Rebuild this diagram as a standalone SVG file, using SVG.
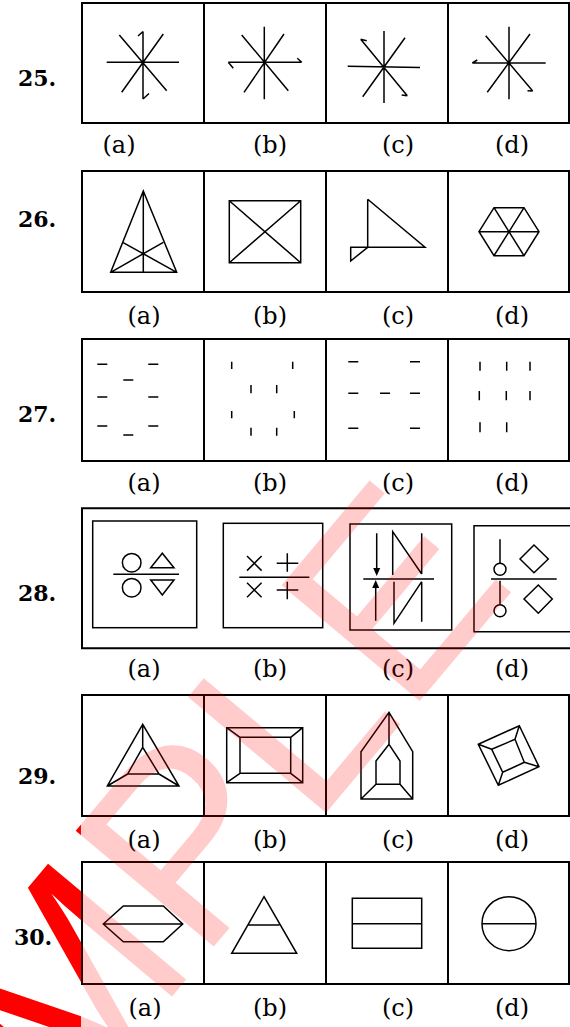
<svg xmlns="http://www.w3.org/2000/svg" width="570" height="1027" viewBox="0 0 570 1027">
<style>
.wm{font-family:"Liberation Sans",Arial,sans-serif;font-size:262px;fill:#ff0000}
.num{font-family:"DejaVu Serif",serif;font-weight:bold;font-size:22px;fill:#000}
.lbl{font-family:"DejaVu Serif",serif;font-size:24px;fill:#000;text-anchor:middle}
.box{fill:none;stroke:#000;stroke-width:2}
.ln{fill:none;stroke:#000;stroke-width:1.5}
.dash{fill:none;stroke:#000;stroke-width:1.5}
</style>
<defs>
<text id="wmtext" class="wm" transform="translate(-165,1398) rotate(-50)">SAMPLE</text>
<clipPath id="clipL"><rect x="0" y="0" width="81" height="1027"/></clipPath>
<clipPath id="clipR"><rect x="81" y="0" width="489" height="1027"/></clipPath>
</defs>
<rect x="0" y="0" width="570" height="1027" fill="#fff"/>
<g id="watermark-left" clip-path="url(#clipL)"><use href="#wmtext"/></g>
<g id="numbers">
<text class="num" x="18" y="86">25.</text>
<text class="num" x="18" y="227">26.</text>
<text class="num" x="18" y="422">27.</text>
<text class="num" x="18" y="601">28.</text>
<text class="num" x="18" y="784">29.</text>
<text class="num" x="14" y="945">30.</text>
</g>
<g id="figures">
<g id="connectors"></g>
<!-- Row 25 -->
<g id="q25">
<path class="box" d="M82 3H569V123H82Z M204 3V123 M326 3V123 M448 3V123"/>
<g id="q25a"><path class="ln" d="M106.7 62.3H179 M143 31.5V62.3 M143 62.3 V99 M119.3 35L166.7 90.7 M163.3 34L121.7 92.3 M143 31.5L138 36 M143 99L149 93.5"/></g>
<g id="q25b"><path class="ln" d="M228.3 62.3H301.7 M264.3 26.7V99.3 M241.7 35L288.3 90.7 M284 34L244 92.3 M228.3 62.3L233.3 68.3 M301.7 62.3L297.3 58.3"/></g>
<g id="q25c"><path class="ln" d="M347.7 66.2L420 67.5 M384 31V103 M360.7 39.3L407.3 95.7 M405 37.7L362.7 96.7 M360.7 39.3L366.7 40.7 M407.3 95.7L401.7 95"/></g>
<g id="q25d"><path class="ln" d="M472.3 63H545.7 M509 26.7V99.3 M485.7 35.7L532.7 91 M530 34L487.3 92.3 M472.3 63L477.3 60 M532.7 91L527.5 90.7"/></g>
<text class="lbl" x="119" y="153">(a)</text><text class="lbl" x="270" y="153">(b)</text><text class="lbl" x="398" y="153">(c)</text><text class="lbl" x="512" y="153">(d)</text>
</g>
<!-- Row 26 -->
<g id="q26">
<path class="box" d="M82 171H569V292H82Z M204 171V292 M326 171V292 M448 171V292"/>
<g id="q26a"><path class="ln" d="M143.3 191L110.7 272.3H176.7Z M143.3 191V272.3 M110.7 272.3L163.3 242.3 M176.7 272.3L122.7 242.3"/></g>
<g id="q26b"><path class="ln" d="M229.3 200.7H300.7V262.7H229.3Z M229.3 200.7L300.7 262.7 M300.7 200.7L229.3 262.7"/></g>
<g id="q26c"><path class="ln" d="M367.7 199.3L425 247.3H350.7V261L367.7 247.3V199.3"/></g>
<g id="q26d"><path class="ln" d="M479 231.7L494 207.7H524L539 231.7L524 255.7H494Z M479 231.7H539 M494 207.7L524 255.7 M524 207.7L494 255.7"/></g>
<text class="lbl" x="144" y="324">(a)</text><text class="lbl" x="270" y="324">(b)</text><text class="lbl" x="398" y="324">(c)</text><text class="lbl" x="512" y="324">(d)</text>
</g>
<!-- Row 27 -->
<g id="q27">
<path class="box" d="M82 339H569V461H82Z M204 339V461 M326 339V461 M448 339V461"/>
<g id="q27a"><path class="dash" d="M97.3 364.3h10 M148.3 364.3h10 M123.3 380h10 M97.3 397h10 M148.3 397h10 M97.3 426h10 M148.3 426h10 M123.3 435h10"/></g>
<g id="q27b"><path class="dash" d="M231.7 361.7v7.3 M292.7 361.7v7.3 M251 385v8.3 M276.7 385v8.3 M231.7 411v7.3 M294.3 411v7.3 M251 427.7v8 M276.7 427.7v8"/></g>
<g id="q27c"><path class="dash" d="M348.3 361.7h10 M410 361.7h10 M348.3 393.3h10 M380 393.3h10 M410 393.3h10 M348.3 428.3h10 M410 428.3h10"/></g>
<g id="q27d"><path class="dash" d="M480 361.7v9 M506.7 361.7v9 M530 361.7v9 M479.3 391v9.3 M506.3 391v9.3 M530 391v9.3 M480 422.3v10 M506.7 422.3v10"/></g>
<text class="lbl" x="144" y="491">(a)</text><text class="lbl" x="270" y="491">(b)</text><text class="lbl" x="398" y="491">(c)</text><text class="lbl" x="512" y="491">(d)</text>
</g>
<!-- Row 28 -->
<g id="q28">
<path class="box" d="M575 508.3H82V648.3H575"/>
<g id="q28a"><rect class="ln" x="92.7" y="521" width="104" height="106.7"/>
<circle class="ln" cx="131.7" cy="562.7" r="9.3"/><circle class="ln" cx="131.7" cy="587.7" r="9.3"/>
<path class="ln" d="M113.3 574.3H179 M150.7 567.7H174L162.3 553.3Z M150.7 580H174L162.3 595Z"/></g>
<g id="q28b"><rect class="ln" x="223.3" y="523.3" width="99.4" height="104.4"/>
<path class="ln" d="M239.3 577.3H309.3 M247 556L261.6 570.6 M261.6 556L247 570.6 M247 582.7L261.6 597.3 M261.6 582.7L247 597.3 M276.7 563.3H298.3 M287.3 553.3V571.7 M276.7 590H298.3 M287.3 581.7V599.3"/></g>
<g id="q28c"><rect class="ln" x="350" y="524" width="101.7" height="106"/>
<path class="ln" d="M363.3 579H434 M376.7 533.3V570 M375.7 620.7V586 M392.7 575V531.7L421.7 574 M421.7 533.3V574 M394 581.7V623.3L421.7 581.7 M421.7 581.7V621.7"/>
<path d="M373.2 568L376.7 576L380.2 568Z M372.2 588L375.7 580L379.2 588Z" fill="#000"/></g>
<g id="q28d"><path class="ln" d="M575 525.7H474V631.7H575"/>
<path class="ln" d="M491 579H556.7 M500 539.3V563.3 M500 580.7V604.7 M520 559L534 545L548.3 559L534 572.7Z M524 599L538.3 585L552.3 599L538.3 613.3Z"/>
<circle class="ln" cx="500" cy="569.3" r="6"/><circle class="ln" cx="500" cy="610.7" r="6"/></g>
<text class="lbl" x="144" y="677">(a)</text><text class="lbl" x="270" y="677">(b)</text><text class="lbl" x="398" y="677">(c)</text><text class="lbl" x="512" y="677">(d)</text>
</g>
<!-- Row 29 -->
<g id="q29">
<path class="box" d="M82 695H569V816H82Z M204 695V816 M326 695V816 M448 695V816"/>
<g id="q29a"><path class="ln" d="M142.7 724.3L107.3 786H179Z M142.7 747.3L127.7 774H159Z M142.7 724.3V747.3 M107.3 786L127.7 774 M179 786L159 774"/></g>
<g id="q29b"><path class="ln" d="M226.7 727.7H302.7V782.7H226.7Z M240 737.3H290.7V773.3H240Z M226.7 727.7L240 737.3 M302.7 727.7L290.7 737.3 M302.7 782.7L290.7 773.3 M226.7 782.7L240 773.3"/></g>
<g id="q29c"><path class="ln" d="M389 712.3L412.7 751.7V799H361V751.7Z M389 744.3L400 761V784.3H376V761Z M389 712.3V744.3 M361 799L376 784.3 M412.7 799L400 784.3"/></g>
<g id="q29d"><path class="ln" d="M478.3 744.3L519.3 725.7L539 766.7L498.3 785.3Z M491.7 749.3L515 739.3L524.3 762.3L502.7 772.3Z M478.3 744.3L491.7 749.3 M519.3 725.7L515 739.3 M539 766.7L524.3 762.3 M498.3 785.3L502.7 772.3"/></g>
<text class="lbl" x="144" y="848">(a)</text><text class="lbl" x="270" y="848">(b)</text><text class="lbl" x="398" y="848">(c)</text><text class="lbl" x="512" y="848">(d)</text>
</g>
<!-- Row 30 -->
<g id="q30">
<path class="box" d="M82 862H569V984H82Z M204 862V984 M326 862V984 M448 862V984"/>
<g id="q30a"><path class="ln" d="M103.3 924L123.3 906H163.3L182.7 924L163.3 941.7H123.3Z M103.3 924H182.7"/></g>
<g id="q30b"><path class="ln" d="M264 896.7L296.7 953.3H231.7Z M248.3 925H279.3"/></g>
<g id="q30c"><path class="ln" d="M352.3 898.3H421.7V948.3H352.3Z M352.3 923.7H421.7"/></g>
<g id="q30d"><circle class="ln" cx="509" cy="923.7" r="27"/><path class="ln" d="M482 923.7H536"/></g>
<text class="lbl" x="145" y="1016">(a)</text><text class="lbl" x="270" y="1016">(b)</text><text class="lbl" x="398" y="1016">(c)</text><text class="lbl" x="512" y="1016">(d)</text>
</g>
</g>
<g id="watermark-right" clip-path="url(#clipR)" opacity="0.2"><use href="#wmtext"/></g>
</svg>
